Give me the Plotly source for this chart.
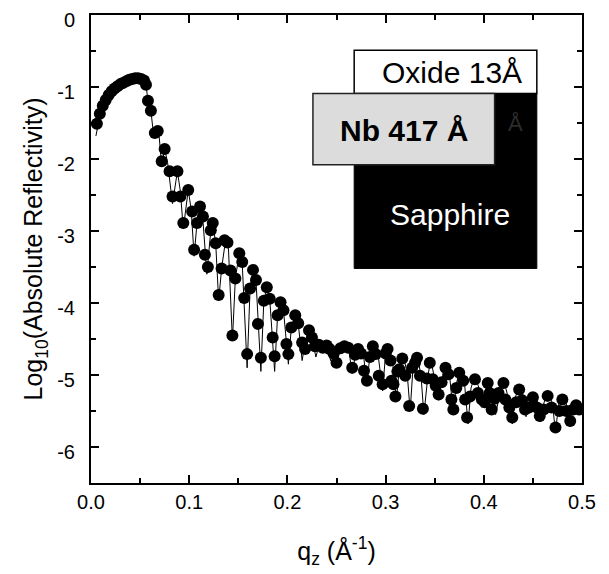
import plotly.graph_objects as go

# ---- measured reflectivity (dots) ----
data_q = [0.006, 0.009, 0.012, 0.015, 0.018, 0.021, 0.024, 0.027, 0.030, 0.033,
          0.036, 0.039, 0.042, 0.045, 0.048, 0.051, 0.054, 0.056, 0.058, 0.061,
          0.065, 0.068, 0.072, 0.075, 0.080, 0.083, 0.088, 0.091, 0.094, 0.099,
          0.103, 0.105, 0.108, 0.111, 0.114, 0.116, 0.119, 0.122, 0.124, 0.127,
          0.130, 0.133, 0.136, 0.139, 0.142, 0.144, 0.147, 0.151, 0.154, 0.156,
          0.159, 0.162, 0.165, 0.168, 0.170, 0.173, 0.176, 0.179, 0.182, 0.185,
          0.187, 0.190, 0.193, 0.196, 0.199, 0.201, 0.204, 0.208, 0.211, 0.215,
          0.218, 0.222, 0.225, 0.228, 0.232, 0.236, 0.240, 0.243, 0.247, 0.250,
          0.254, 0.258, 0.262, 0.266, 0.269, 0.272, 0.275, 0.278, 0.281, 0.284,
          0.287, 0.290, 0.293, 0.297, 0.300, 0.302, 0.305, 0.306, 0.308, 0.310,
          0.312, 0.314, 0.317, 0.320, 0.324, 0.327, 0.330, 0.332, 0.335, 0.338,
          0.342, 0.345, 0.348, 0.351, 0.354, 0.357, 0.361, 0.364, 0.367, 0.369,
          0.372, 0.375, 0.379, 0.381, 0.383, 0.386, 0.391, 0.394, 0.398, 0.401,
          0.404, 0.406, 0.408, 0.411, 0.415, 0.420, 0.422, 0.426, 0.429, 0.433,
          0.436, 0.439, 0.442, 0.446, 0.450, 0.454, 0.457, 0.461, 0.465, 0.469,
          0.473, 0.477, 0.480, 0.484, 0.488, 0.491, 0.494, 0.497]
data_log_r = [-1.51, -1.37, -1.26, -1.18, -1.11, -1.06, -1.02, -0.99, -0.96, -0.94,
              -0.92, -0.90, -0.89, -0.88, -0.88, -0.89, -0.91, -0.97, -1.19, -1.33,
              -1.64, -1.61, -2.03, -1.86, -2.17, -2.52, -2.17, -2.52, -2.89, -2.43,
              -2.73, -3.26, -2.89, -2.66, -2.80, -3.33, -3.50, -2.99, -2.89, -3.17,
              -3.89, -3.52, -3.13, -3.16, -3.55, -4.45, -3.66, -3.31, -3.43, -3.93,
              -4.71, -3.80, -3.54, -3.68, -4.29, -4.76, -3.97, -3.78, -3.94, -4.48,
              -4.74, -4.17, -3.99, -4.10, -4.57, -4.71, -4.34, -4.17, -4.28, -4.55,
              -4.64, -4.38, -4.48, -4.60, -4.58, -4.62, -4.59, -4.64, -4.70, -4.83,
              -4.63, -4.60, -4.62, -4.90, -4.72, -4.64, -4.70, -4.94, -5.08, -4.75,
              -4.60, -4.71, -5.01, -5.13, -4.70, -4.64, -4.80, -5.08, -5.13, -5.30,
              -4.95, -4.92, -4.77, -5.01, -5.43, -4.90, -4.83, -4.76, -5.01, -5.47,
              -5.05, -4.83, -5.06, -5.15, -5.27, -5.10, -4.90, -4.99, -5.34, -5.48,
              -5.18, -4.97, -5.08, -5.34, -5.59, -5.30, -5.06, -5.25, -5.34, -5.38,
              -5.11, -5.25, -5.48, -5.33, -5.25, -5.11, -5.34, -5.45, -5.59, -5.38,
              -5.20, -5.35, -5.48, -5.45, -5.31, -5.45, -5.57, -5.48, -5.29, -5.45,
              -5.73, -5.50, -5.34, -5.50, -5.64, -5.48, -5.42, -5.48]

# ---- model fit (thin line) ----
fit_q = [0.005, 0.009, 0.012, 0.015, 0.018, 0.021, 0.024, 0.027, 0.030, 0.033,
         0.036, 0.039, 0.042, 0.045, 0.048, 0.051, 0.054, 0.056, 0.058, 0.061,
         0.064, 0.067, 0.069, 0.072, 0.075, 0.078, 0.083, 0.088, 0.091, 0.094,
         0.099, 0.102, 0.105, 0.108, 0.111, 0.114, 0.118, 0.122, 0.124, 0.127,
         0.130, 0.133, 0.137, 0.140, 0.144, 0.147, 0.151, 0.154, 0.159, 0.162,
         0.165, 0.168, 0.173, 0.176, 0.179, 0.182, 0.187, 0.190, 0.193, 0.196,
         0.201, 0.204, 0.208, 0.211, 0.215, 0.218, 0.222, 0.225, 0.229, 0.233,
         0.237, 0.240, 0.244, 0.247, 0.250, 0.254, 0.258, 0.262, 0.266, 0.270,
         0.273, 0.277, 0.281, 0.284, 0.288, 0.292, 0.297, 0.300, 0.303, 0.307,
         0.311, 0.314, 0.318, 0.322, 0.325, 0.328, 0.332, 0.336, 0.339, 0.343,
         0.346, 0.350, 0.354, 0.357, 0.361, 0.365, 0.369, 0.372, 0.376, 0.380,
         0.384, 0.387, 0.391, 0.395, 0.398, 0.401, 0.405, 0.409, 0.412, 0.416,
         0.420, 0.425, 0.429, 0.432, 0.436, 0.440, 0.443, 0.446, 0.450, 0.455,
         0.458, 0.461, 0.465, 0.470, 0.473, 0.476, 0.480, 0.485, 0.488, 0.491,
         0.495, 0.500]
fit_log_r = [-1.68, -1.40, -1.26, -1.18, -1.11, -1.06, -1.02, -0.99, -0.96, -0.94,
             -0.92, -0.90, -0.89, -0.88, -0.88, -0.89, -0.91, -0.97, -1.19, -1.33,
             -1.70, -1.58, -1.62, -2.10, -1.86, -2.05, -2.62, -2.17, -2.45, -2.97,
             -2.43, -2.70, -3.35, -2.88, -2.66, -2.85, -3.60, -2.99, -2.89, -3.17,
             -3.97, -3.52, -3.13, -3.25, -4.52, -3.66, -3.31, -3.45, -4.90, -3.80,
             -3.54, -3.68, -4.95, -3.97, -3.78, -3.94, -4.95, -4.17, -3.99, -4.10,
             -4.85, -4.34, -4.17, -4.28, -4.80, -4.55, -4.38, -4.48, -4.75, -4.55,
             -4.54, -4.58, -4.80, -4.62, -4.90, -4.60, -4.56, -4.60, -4.98, -4.66,
             -4.58, -4.66, -5.15, -4.72, -4.56, -4.68, -5.22, -4.70, -4.60, -4.80,
             -5.35, -4.90, -4.72, -4.98, -5.50, -4.88, -4.72, -5.00, -5.55, -5.02,
             -4.78, -5.05, -5.35, -5.08, -4.85, -4.98, -5.55, -5.12, -4.92, -5.06,
             -5.68, -5.18, -5.00, -5.18, -5.45, -5.25, -5.06, -5.24, -5.55, -5.28,
             -5.06, -5.32, -5.68, -5.32, -5.14, -5.28, -5.58, -5.38, -5.24, -5.38,
             -5.65, -5.40, -5.22, -5.40, -5.80, -5.42, -5.28, -5.44, -5.72, -5.46,
             -5.36, -5.50]

x_tick_vals = [0.0, 0.1, 0.2, 0.3, 0.4, 0.5]
x_tick_text = ["0.0", "0.1", "0.2", "0.3", "0.4", "0.5"]
y_tick_vals = [0, -1, -2, -3, -4, -5, -6]
y_tick_text = ["0", "-1", "-2", "-3", "-4", "-5", "-6"]

FONT = "Liberation Sans, Arial, sans-serif"

fig = go.Figure()
fig.add_trace(go.Scatter(x=fit_q, y=fit_log_r, mode="lines",
                         line=dict(color="black", width=1), showlegend=False))
fig.add_trace(go.Scatter(x=data_q, y=data_log_r, mode="markers",
                         marker=dict(color="black", size=12, line=dict(width=0)),
                         showlegend=False))

# inset: layer schematic
fig.add_shape(type="rect", xref="x", yref="y", x0=0.268, x1=0.454, y0=-0.49, y1=-1.09,
              fillcolor="white", line=dict(color="black", width=1.5), layer="above")
fig.add_shape(type="rect", xref="x", yref="y", x0=0.268, x1=0.454, y0=-1.09, y1=-3.52,
              fillcolor="black", line=dict(color="black", width=1), layer="above")
fig.add_shape(type="rect", xref="x", yref="y", x0=0.226, x1=0.411, y0=-1.09, y1=-2.08,
              fillcolor="#dcdcdc", line=dict(color="#222222", width=1.5), layer="above")
fig.add_annotation(x=0.368, y=-0.80, xref="x", yref="y", text="Oxide 13Å", showarrow=False,
                   font=dict(family=FONT, size=30, color="black"))
fig.add_annotation(x=0.319, y=-1.60, xref="x", yref="y", text="<b>Nb 417 Å</b>", showarrow=False,
                   font=dict(family=FONT, size=30, color="black"))
fig.add_annotation(x=0.366, y=-2.77, xref="x", yref="y", text="Sapphire", showarrow=False,
                   font=dict(family=FONT, size=30, color="white"))
fig.add_annotation(x=0.432, y=-1.50, xref="x", yref="y", text="Å", showarrow=False,
                   font=dict(family=FONT, size=22, color="#2c2c2c"))

axis_common = dict(showline=True, linecolor="black", linewidth=2, mirror="ticks",
                   ticks="inside", ticklen=8, tickwidth=1.5, tickcolor="black",
                   showgrid=False, zeroline=False, automargin=False,
                   ticklabeloverflow="allow",
                   tickfont=dict(family=FONT, size=20, color="black"))

fig.update_xaxes(range=[0, 0.5], tickvals=x_tick_vals, ticktext=x_tick_text,
                 minor=dict(ticks="inside", ticklen=5, tickwidth=1.5, dtick=0.05, tickcolor="black"),
                 title=dict(text="q<sub>z</sub> (Å<sup>-1</sup>)", standoff=30,
                            font=dict(family=FONT, size=25, color="black")),
                 **axis_common)
fig.update_yaxes(range=[-6.5, 0], tickvals=y_tick_vals, ticktext=y_tick_text,
                 ticklabelstandoff=10, ticklabelshift=5,
                 minor=dict(ticks="inside", ticklen=5, tickwidth=1.5, dtick=0.5, tickcolor="black"),
                 title=dict(text="Log<sub>10</sub>(Absolute Reflectivity)", standoff=7,
                            font=dict(family=FONT, size=25, color="black")),
                 **axis_common)

# the page body adds an 8px offset, so margins are reduced by 8 on the left/top
fig.update_layout(width=609, height=574, margin=dict(l=83, r=35, t=7, b=99),
                  paper_bgcolor="white", plot_bgcolor="white", showlegend=False)

fig.write_html("out.html")
